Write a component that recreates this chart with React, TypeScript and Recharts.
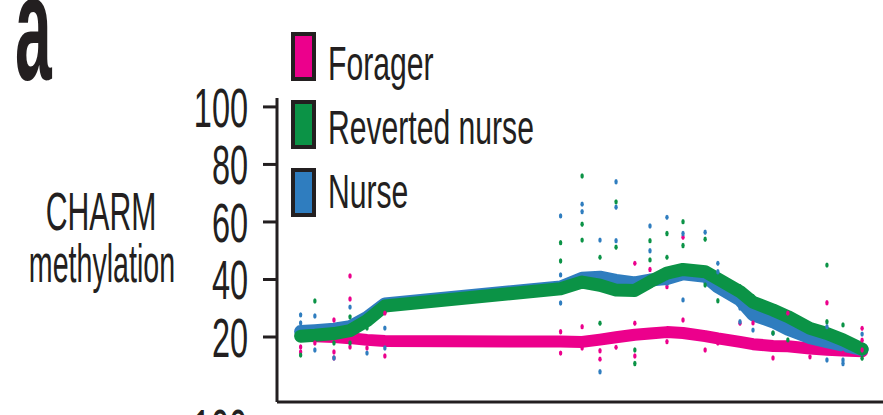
import { ComposedChart, Legend, Line, Scatter, XAxis, YAxis } from 'recharts';

// genomic position (bp) of each CpG column along the region
const positions = [
  78, 125, 188, 241, 297, 356, 936, 1007, 1066, 1119, 1181, 1231, 1287, 1340, 1413, 1455, 1528,
  1571, 1637, 1686, 1759, 1815, 1868, 1931,
];

// smoothed fits, one value per column
const foragerFit = [
  20.5, 20.3, 20.0, 19.6, 19.0, 18.6, 18.4, 18.3, 19.1, 19.9, 20.8, 21.2, 21.7, 21.4, 20.3, 19.5,
  18.3, 17.5, 16.9, 16.8, 16.0, 15.6, 15.3, 15.0,
];
const revertedFit = [
  20.3, 20.6, 21.2, 22.2, 25.7, 30.8, 36.8, 39.1, 38.0, 36.3, 36.2, 39.2, 42.2, 43.5, 42.7, 40.2,
  35.8, 32.1, 29.4, 27.1, 23.0, 21.2, 19.0, 15.8,
];
const nurseFit = [
  21.9, 22.2, 22.7, 23.6, 26.8, 31.5, 37.4, 40.4, 40.8, 39.7, 38.8, 39.8, 40.3, 42.0, 41.1, 37.4,
  32.9, 27.7, 25.3, 22.7, 19.8, 18.4, 17.2, 15.7,
];

// individual samples: [column index, methylation]
const foragerDots: [number, number][] = [
  [0, 16.5], [0, 14.8], [1, 17.9], [2, 25.9], [2, 14.8], [2, 12.7], [3, 41.2], [3, 33.2], [3, 16.5],
  [4, 16.2], [5, 28.3], [5, 13.4], [6, 21.8], [6, 14.4], [7, 23.6], [7, 16.2], [8, 15.2], [8, 12.3],
  [9, 16.4], [10, 45.6], [10, 24.8], [10, 13.4], [11, 43.5], [12, 37.5], [12, 18.4], [13, 54.7],
  [13, 25.9], [14, 15.5], [15, 17.9], [16, 24.8], [17, 24.9], [18, 12.7], [19, 28.3], [20, 13.1],
  [21, 31.9], [22, 14.4], [23, 23.0], [23, 18.9], [23, 15.5],
];
const revertedDots: [number, number][] = [
  [0, 13.7], [1, 32.5], [2, 17.9], [3, 27.0], [3, 17.9], [4, 23.1], [6, 52.8], [6, 46.4], [7, 76.0],
  [7, 59.2], [7, 53.7], [8, 47.7], [8, 24.8], [9, 67.0], [9, 51.2], [10, 15.5], [10, 10.8], [11, 53.5],
  [11, 46.8], [12, 56.0], [12, 47.7], [13, 60.1], [13, 51.8], [14, 54.0], [14, 38.1], [15, 32.6],
  [16, 37.5], [17, 34.0], [18, 21.4], [19, 19.0], [21, 45.0], [21, 25.3], [22, 24.2], [23, 12.6],
];
const nurseDots: [number, number][] = [
  [0, 27.7], [0, 24.9], [1, 27.3], [1, 15.5], [2, 12.7], [3, 30.4], [4, 14.4], [5, 23.1], [5, 16.2],
  [6, 62.1], [6, 41.6], [6, 31.8], [7, 66.2], [7, 63.6], [8, 53.7], [8, 7.9], [9, 74.0], [9, 65.1],
  [9, 53.5], [11, 58.6], [11, 50.0], [12, 61.6], [12, 38.7], [13, 56.0], [13, 32.9], [14, 56.4],
  [15, 45.6], [15, 42.7], [16, 30.1], [16, 25.3], [17, 22.4], [18, 21.3], [21, 23.6], [21, 12.0],
  [22, 12.0], [22, 10.8], [23, 21.0],
];

const yTicks = [20, 40, 60, 80, 100];
const legendOrder = ['Forager', 'Reverted nurse', 'Nurse'];

const INK = '#231f20';
const FONT = '"Liberation Sans", Arial, Helvetica, sans-serif';
const PINK = '#ec008c';
const GREEN = '#0b9346';
const BLUE = '#2f7dbf';

const fitRows = (fit: number[]) => positions.map((pos, i) => ({ pos, value: fit[i] }));
const dotRows = (dots: [number, number][]) => dots.map(([c, value]) => ({ pos: positions[c], value }));

const YTick = (props: any) => {
  const { x, y, payload } = props;
  return (
    <text
      transform={`translate(${x},${y + 20}) scale(0.58,1)`}
      textAnchor='end'
      fontSize={56}
      fontFamily={FONT}
      fill={INK}
    >
      {payload.value}
    </text>
  );
};

const dotShape = (color: string) => (props: any) => (
  <ellipse cx={props.cx} cy={props.cy} rx={1.7} ry={2.7} fill={color} />
);

const YLabel = () => (
  <g fontFamily={FONT} fontSize={53} fill={INK} textAnchor='middle'>
    <text transform='translate(101,230) scale(0.57,1)'>CHARM</text>
    <text transform='translate(102,282) scale(0.54,1)'>methylation</text>
  </g>
);

const LegendBox = (props: any) => {
  const items = [...(props.payload || [])]
    .filter((p: any) => legendOrder.includes(p.value))
    .sort((a: any, b: any) => legendOrder.indexOf(a.value) - legendOrder.indexOf(b.value));
  return (
    <svg width={280} height={210} style={{ display: 'block' }}>
      {items.map((p: any, i: number) => (
        <g key={p.value}>
          <rect x={10} y={11 + i * 68} width={21} height={45} fill={p.color} stroke={INK} strokeWidth={4} />
          <text
            transform={`translate(45,${57 + i * 64}) scale(0.615,1)`}
            fontSize={49}
            fontFamily={FONT}
            fill={INK}
          >
            {p.value}
          </text>
        </g>
      ))}
    </svg>
  );
};

export default function App(): JSX.Element {
  return (
    <div style={{ position: 'absolute', left: 0, top: 0, width: 883, height: 415, background: '#fff' }}>
      <svg width={883} height={415} style={{ position: 'absolute', left: 0, top: 0 }}>
        <text transform='translate(15,80) scale(0.44,1)' fontSize={150} fontWeight='bold' fontFamily={FONT} fill={INK}>
          a
        </text>
        <text transform='translate(247,448) scale(0.58,1)' textAnchor='end' fontSize={56} fontFamily={FONT} fill={INK}>
          100
        </text>
      </svg>
      <ComposedChart
        width={883}
        height={415}
        margin={{ top: 98, right: 0, bottom: 10, left: 0 }}
        style={{ position: 'absolute', left: 0, top: 0 }}
      >
        <XAxis
          type='number'
          dataKey='pos'
          domain={[0, 2000]}
          height={3}
          tick={false}
          tickLine={false}
          axisLine={{ stroke: INK, strokeWidth: 3 }}
        />
        <YAxis
          type='number'
          domain={[-2.6, 103.1]}
          allowDataOverflow
          ticks={yTicks}
          width={277}
          tickSize={14}
          tickMargin={15}
          axisLine={{ stroke: INK, strokeWidth: 3 }}
          tickLine={{ stroke: INK, strokeWidth: 3 }}
          tick={<YTick />}
          label={<YLabel />}
        />
        <Legend
          layout='vertical'
          align='center'
          verticalAlign='middle'
          content={<LegendBox />}
          wrapperStyle={{ position: 'absolute', left: 283, top: 23, width: 280, height: 210 }}
        />
        <Line name='Forager' data={fitRows(foragerFit)} dataKey='value' type='linear' stroke={PINK} strokeWidth={12} strokeLinecap='round' strokeLinejoin='round' dot={false} activeDot={false} isAnimationActive={false} />
        <Line name='Nurse' data={fitRows(nurseFit)} dataKey='value' type='linear' stroke={BLUE} strokeWidth={13} strokeLinecap='round' strokeLinejoin='round' dot={false} activeDot={false} isAnimationActive={false} />
        <Line name='Reverted nurse' data={fitRows(revertedFit)} dataKey='value' type='linear' stroke={GREEN} strokeWidth={13} strokeLinecap='round' strokeLinejoin='round' dot={false} activeDot={false} isAnimationActive={false} />
        <Scatter data={dotRows(foragerDots)} dataKey='value' legendType='none' shape={dotShape(PINK)} isAnimationActive={false} />
        <Scatter data={dotRows(nurseDots)} dataKey='value' legendType='none' shape={dotShape(BLUE)} isAnimationActive={false} />
        <Scatter data={dotRows(revertedDots)} dataKey='value' legendType='none' shape={dotShape(GREEN)} isAnimationActive={false} />
      </ComposedChart>
    </div>
  );
}
